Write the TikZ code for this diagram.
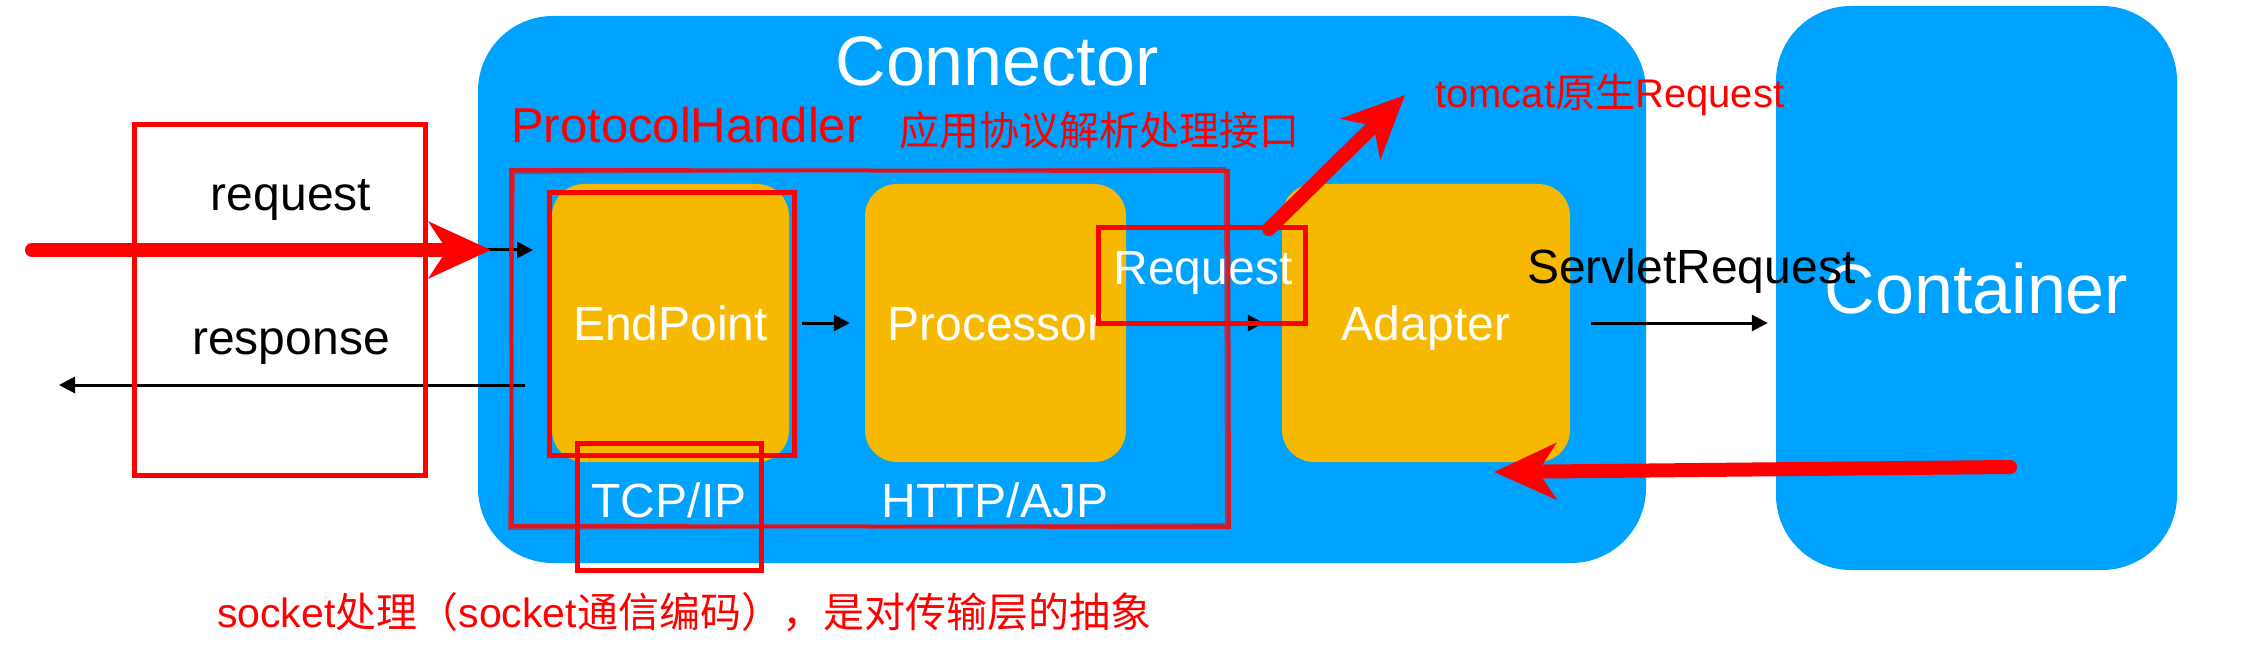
\documentclass[tikz,border=0pt]{standalone}
\usepackage{fontspec}
\setmainfont{Liberation Sans}
\newfontfamily\cjk{Noto Sans CJK SC}
\usetikzlibrary{arrows.meta}
\definecolor{cblue}{RGB}{0,162,255}
\definecolor{cyel}{RGB}{247,185,0}
\definecolor{cred}{RGB}{255,0,0}
\begin{document}
\begin{tikzpicture}[x=1pt,y=-1pt,
  bigbox/.style={fill=cblue, rounded corners=75pt, draw=none, inner sep=0pt},
  ybox/.style={fill=cyel, rounded corners=32pt, draw=none, inner sep=0pt, text=white, font=\fontsize{48}{56}\selectfont, text height=35pt, text depth=0pt},
  redrect/.style={draw=cred, line width=5pt},
  sketchrect/.style={draw=cred, line width=4pt, opacity=0.85},
  blackarrow/.style={draw=black, line width=3pt, -{Triangle[length=16pt,width=16pt]}},
  redarrow/.style={draw=cred, line width=14pt, line cap=round, -{Stealth[length=62pt,width=56pt,inset=18pt]}},
  whitelab/.style={text=white, inner sep=0pt, font=\fontsize{48}{56}\selectfont},
  blacklab/.style={text=black, inner sep=0pt, font=\fontsize{48}{56}\selectfont},
  bigwhite/.style={text=white, inner sep=0pt, font=\fontsize{70}{80}\selectfont},
  redlab/.style={text=cred, inner sep=0pt, font=\fontsize{49}{56}\selectfont},
  rednote/.style={text=cred, inner sep=0pt, font=\fontsize{40}{48}\selectfont}
]
\useasboundingbox[fill=white] (0,0) rectangle (2242,652);

% big blue boxes
\node[bigbox, minimum width=1168pt, minimum height=547pt] (conn) at (1062,289.5) {};
\node[bigbox, minimum width=401pt, minimum height=564pt, bigwhite] (cont) at (1976.5,288) {Container};
\node[bigwhite] (conntitle) at (997,61) {Connector};

% yellow boxes
\node[ybox, minimum width=237pt, minimum height=278pt] (ep) at (670.5,323) {EndPoint};
\node[ybox, minimum width=261pt, minimum height=278pt] (proc) at (995.5,323) {Processor};
\node[ybox, minimum width=288pt, minimum height=278pt] (adp) at (1426,323) {Adapter};

% texts
\node[blacklab] (reqlab) at (291,200) {request};
\node[blacklab] (resplab) at (291,347) {response};
\node[whitelab] (tcp) at (669,500) {TCP/IP};
\node[whitelab] (http) at (995,500) {HTTP/AJP};
\node[whitelab] (reqw) at (1203,273) {Request};
\node[redlab, anchor=west] (ph) at (511,125) {ProtocolHandler};
\node[rednote, anchor=west] (phcn) at (899,130) {\cjk 应用协议解析处理接口};
\node[rednote, anchor=west] (tomcat) at (1435,95) {tomcat{\cjk 原生}Request};
\node[rednote, anchor=west, font=\fontsize{41}{48}\selectfont] (sock) at (217,612) {socket{\cjk 处理（}socket{\cjk 通信编码），是对传输层的抽象}};

% coordinates for free arrow ends
\coordinate (reqstart) at (32,250);
\coordinate (reqtip) at (491,250);
\coordinate (blkstart) at (479,250);
\coordinate (blkend) at (533,250);
\coordinate (respstart) at (525,385);
\coordinate (respend) at (59,385);
\coordinate (tstart) at (1269,229);
\coordinate (tend) at (1405,95);
\coordinate (cstart) at (2010,467);
\coordinate (cend) at (1494,472);

% black arrows
\draw[blackarrow] (blkstart) -- (blkend);
\draw[blackarrow] (respstart) -- (respend);
\draw[blackarrow] ([xshift=13pt]ep.east) -- ([xshift=-15pt]proc.west);
\draw[blackarrow] ([xshift=10pt]proc.east) -- ([xshift=-18pt]adp.west);
\draw[blackarrow] ([xshift=21pt]adp.east) -- ([xshift=-8pt]cont.west |- adp.east);

\node[blacklab, anchor=west] (servlet) at (1527,271) {ServletRequest};

% red rectangles
\draw[redrect] (134,125) rectangle (425,475);
\draw[sketchrect] (511,170) -- (1228,171) -- (1229,527) -- (512,526) -- cycle;
\draw[draw=cred, line width=2pt, opacity=0.6] (514,173) -- (1225,168) -- (1226,524) -- (509,529) -- cycle;
\draw[redrect] (549,193) rectangle (794,455);
\draw[redrect] (577,443) rectangle (761,570);
\draw[redrect] (1098,228) rectangle (1305,323);

% red arrows
\draw[redarrow] (reqstart) -- (reqtip);
\draw[redarrow] (tstart) -- (tend);
\draw[redarrow] (cstart) -- (cend);
\end{tikzpicture}
\end{document}
